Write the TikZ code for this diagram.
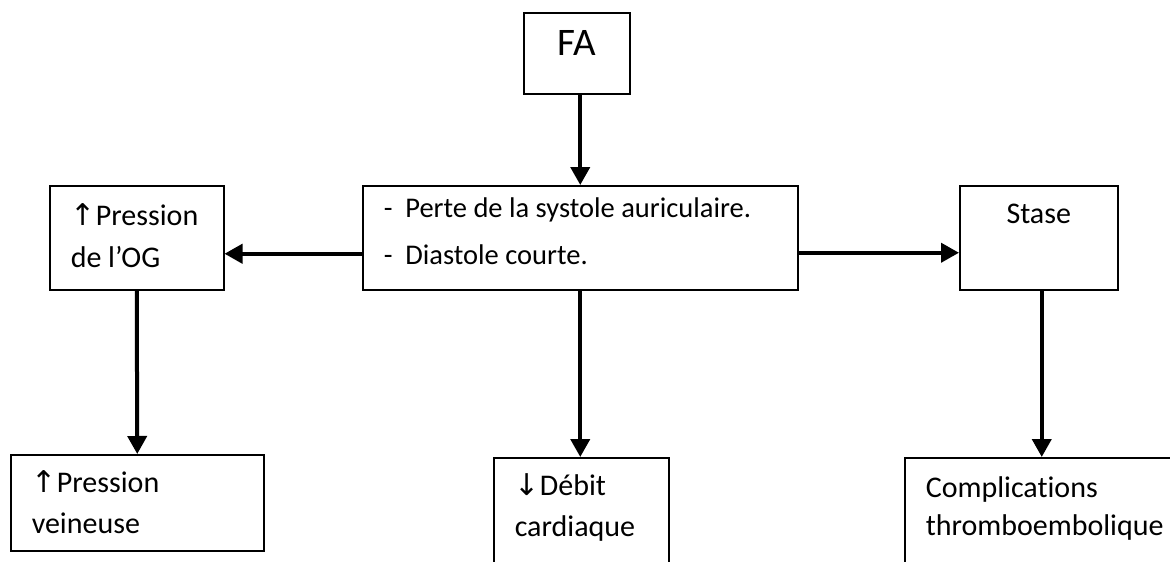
\documentclass[tikz,border=0pt]{standalone}
\usepackage{fontspec}
\setmainfont{Carlito}[Ligatures=NoCommon]
\newfontfamily\arrowfont{DejaVu Sans}
\usetikzlibrary{arrows.meta}
\hyphenpenalty=10000

\tikzset{
  box/.style={draw, line width=1.5pt, anchor=north west, inner ysep=0pt, inner xsep=21pt,
    align=flush left, font=\fontsize{30}{42}\selectfont},
  flow/.style={line width=4pt, -{Triangle[length=18pt,width=19pt]}},
}

\begin{document}
\begin{tikzpicture}[x=1pt, y=-1pt]
\useasboundingbox (0,0) rectangle (1170,562);
\clip (0,0) rectangle (1170,562);

% top row
\node[box, align=flush center, inner xsep=8pt, text width=90pt, text height=43pt, text depth=38pt,
  font=\fontsize{39}{46}\selectfont] (fa) at (523,12) {FA};

% middle row
\node[box, text width=393pt, text height=32pt, text depth=72pt, font=\fontsize{28.5}{47}\selectfont] (mid) at (362,185)
  {-\ \ Perte de la systole auriculaire.\\-\ \ Diastole courte.};
\node[box, text width=132pt, text height=40pt, text depth=64pt] (og) at (49,185)
  {{\arrowfont ↑}Pression\\de l’OG};
\node[box, align=flush center, inner xsep=10pt, text width=138pt, text height=38pt, text depth=66pt] (stase) at (959,185)
  {Stase};

% bottom row (runs past the lower edge)
\node[box, text width=211pt, text height=38pt, text depth=58pt, font=\fontsize{30}{41}\selectfont] (ven) at (10,454)
  {{\arrowfont ↑}Pression\\veineuse};
\node[box, text width=133pt, text height=38pt, text depth=120pt, font=\fontsize{30}{41}\selectfont] (deb) at (493,457)
  {{\arrowfont ↓}Débit\\cardiaque};
\node[box, text width=260pt, text height=40pt, text depth=120pt, font=\fontsize{30}{38}\selectfont] (thr) at (904,457)
  {Complications\\thromboembolique};

% arrows
\draw[flow] (mid.north |- fa.south) -- (mid.north);
\draw[flow] ([yshift=-16pt]mid.west) -- ([yshift=-16pt]og.east);
\draw[flow] ([yshift=-15pt]mid.east) -- ([yshift=-15pt]stase.west);
\draw[flow] (og.south) -- (ven.north);
\draw[flow] (mid.south) -- (mid.south |- deb.north);
\draw[flow] ([xshift=3pt]stase.south) -- ([xshift=3pt]stase.south |- thr.north);
\end{tikzpicture}
\end{document}
